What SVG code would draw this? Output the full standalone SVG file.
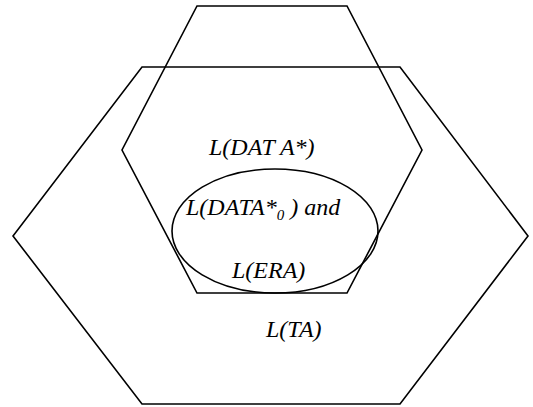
<svg xmlns="http://www.w3.org/2000/svg" width="533" height="407" viewBox="0 0 533 407">
<style>
.s{fill:none;stroke:#000;stroke-width:1.6;stroke-linejoin:miter}
</style>
<rect width="533" height="407" fill="#fff"/>
<g id="outer">
<polygon class="s" points="142,67 400,67 528,236 400,404 142,404 13,236"/>
</g>
<g id="inner">
<polygon class="s" points="197,6 347,6 422,150 347,293 197,293 122,150"/>
</g>
<g id="ellipse">
<ellipse class="s" cx="275" cy="231" rx="103" ry="62"/>
</g>
<g id="labels" font-family="Liberation Serif" font-style="italic" font-size="24" fill="#000">
<text x="209" y="155">L(DAT A*)</text>
<text x="186" y="215">L(DATA*<tspan font-size="15" dy="5">0</tspan><tspan dy="-5"> ) and</tspan></text>
<text x="232" y="278">L(ERA)</text>
<text x="266" y="337">L(TA)</text>
</g>
</svg>
